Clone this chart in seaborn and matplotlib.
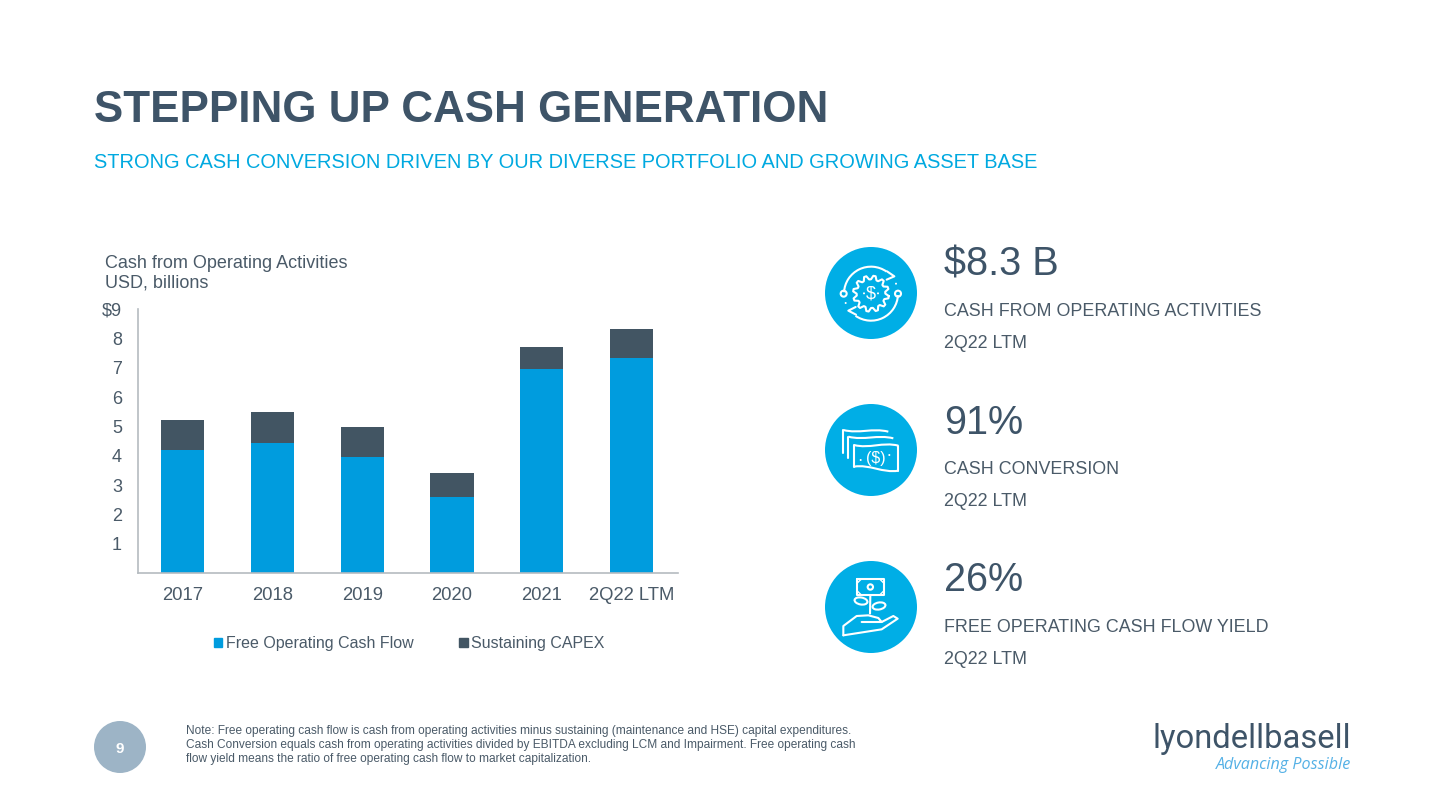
import numpy as np
import pandas as pd
import seaborn as sns
import matplotlib.pyplot as plt
from matplotlib.patches import Circle, Ellipse, Arc, Patch, PathPatch
from matplotlib.path import Path

years = ["2017", "2018", "2019", "2020", "2021", "2Q22 LTM"]
free_cash = [4.2, 4.43, 3.95, 2.6, 6.95, 7.33]
capex = [1.0, 1.05, 1.02, 0.8, 0.75, 1.0]
y_ticks = [1, 2, 3, 4, 5, 6, 7, 8, 9]
y_labels = ["1", "2", "3", "4", "5", "6", "7", "8", "$9"]

kpi_values = ["$8.3 B", "91%", "26%"]
kpi_names = ["CASH FROM OPERATING ACTIVITIES", "CASH CONVERSION", "FREE OPERATING CASH FLOW YIELD"]
kpi_period = "2Q22 LTM"
notes = ["Note: Free operating cash flow is cash from operating activities minus sustaining (maintenance and HSE) capital expenditures.",
         "Cash Conversion equals cash from operating activities divided by EBITDA excluding LCM and Impairment. Free operating cash",
         "flow yield means the ratio of free operating cash flow to market capitalization."]

BLUE = "#009CDE"
DARK = "#425563"
TITLE = "#3E5468"
TEXT = "#4A5A68"
ICON = "#00AEE6"

sns.set_theme(style="white")
plt.rcParams['font.family'] = ['Liberation Sans', 'DejaVu Sans']

fig = plt.figure(figsize=(14.4, 8.1), dpi=100, facecolor="white")
ax = fig.add_axes([138 / 1440, (810 - 573) / 810, 540 / 1440, 264 / 810])

df = pd.DataFrame({"year": years, "free": free_cash, "capex": capex})
df["total"] = df.free + df.capex
sns.barplot(x="year", y="total", data=df, color=DARK, saturation=1, width=0.48, linewidth=0, ax=ax)
sns.barplot(x="year", y="free", data=df, color=BLUE, saturation=1, width=0.48, linewidth=0, ax=ax)
ax.set_xlim(-0.496, 5.517)
ax.set_ylim(0, 9)
ax.set_xlabel("")
ax.set_ylabel("")
ax.set_yticks(y_ticks, y_labels)
ax.tick_params(axis="both", length=0, labelsize=13, labelcolor=TEXT)
ax.tick_params(axis="x", pad=10, labelsize=13.3)
ax.tick_params(axis="y", pad=11.5)
sns.despine(ax=ax)
for s in ["left", "bottom"]:
    ax.spines[s].set_color("#B5BBC0")
    ax.spines[s].set_linewidth(1.2)

handles = [Patch(color=BLUE, label="Free Operating Cash Flow"), Patch(color=DARK, label="Sustaining CAPEX")]
ax.legend(handles=handles, loc="center left", bbox_to_anchor=((214 - 138) / 540, (573 - 643.5) / 264), ncol=2,
          frameon=False, fontsize=11.5, labelcolor=TEXT, handlelength=0.52, handleheight=0.52, handletextpad=0.2,
          columnspacing=2.9, borderpad=0, borderaxespad=0)

# overlay in pixel coordinates for the slide furniture
ov = fig.add_axes([0, 0, 1, 1], zorder=5)
ov.set_xlim(0, 1440)
ov.set_ylim(810, 0)
ov.axis("off")
ov.patch.set_alpha(0)

def label(x, y, s, size, color=TEXT, **kw):
    kw.setdefault("va", "center")
    ov.text(x, y, s, fontsize=size, color=color, **kw)

label(94, 111, "STEPPING UP CASH GENERATION", 31.65, TITLE, fontweight="bold")
label(94, 162, "STRONG CASH CONVERSION DRIVEN BY OUR DIVERSE PORTFOLIO AND GROWING ASSET BASE", 14.43, "#00A9E0")
label(105, 263, "Cash from Operating Activities", 13, TEXT)
label(105, 283.5, "USD, billions", 13, TEXT)

value_y = [265, 423, 580]
for i in range(3):
    top = 158 * i
    label(944, value_y[i], kpi_values[i], 28.5, TITLE)
    label(944, 311 + top, kpi_names[i], 12.92, TEXT)
    label(944, 344 + top, kpi_period, 12.85, TEXT)
    ov.add_patch(Circle((871, 293 + 157 * i), 46, color=ICON, lw=0))

for i, line_txt in enumerate(notes):
    label(186, 731 + 14 * i, line_txt, 8.58, TEXT)
ov.add_patch(Circle((120, 747), 26, color="#9DB4C6", lw=0))
label(119.5, 749, "9", 11, "white", fontweight="bold", ha="center")

label(1351, 739, "lyondellbasell", 23.6, TITLE, ha="right", family="Roboto")
label(1351, 765, "Advancing Possible", 11.6, "#55B1E6", ha="right", style="italic", family="Open Sans")

# icons, traced in zoomed pixels relative to each circle centre
LW = 1.5

def pts(c, xy):
    return [(c[0] + x / 3, c[1] + y / 3) for x, y in xy]

def line(c, xy, lw=LW):
    p = pts(c, xy)
    ov.plot([a for a, b in p], [b for a, b in p], color="white", lw=lw, solid_joinstyle="round", solid_capstyle="round")

def wave(c, x0, y0, x1, y1, dy=12, lw=LW):
    p = pts(c, [(x0, y0), (x0 + (x1 - x0) * .35, y0 + dy), (x0 + (x1 - x0) * .65, y1 - dy), (x1, y1)])
    ov.add_patch(PathPatch(Path(p, [Path.MOVETO, Path.CURVE4, Path.CURVE4, Path.CURVE4]), fc="none", ec="white", lw=lw))

def ring(c, x, y, r, lw=LW):
    ov.add_patch(Circle(pts(c, [(x, y)])[0], r / 3, fc="none", ec="white", lw=lw))

def dot(c, x, y):
    ov.add_patch(Circle(pts(c, [(x, y)])[0], 1, color="white", lw=0))

# gear and arrows
c = (871, 293)
ang = np.linspace(0, 2 * np.pi, 49)
rad = np.tile([54, 54, 43, 43], 12)[:48]
gear = [(r * np.cos(a), 2 + r * np.sin(a)) for r, a in zip(rad, ang[:-1] + 0.13)]
line(c, gear + gear[:1])
ov.add_patch(Arc(pts(c, [(0, 2)])[0], 54, 54, theta1=183, theta2=305, color="white", lw=LW))
ov.add_patch(Arc(pts(c, [(0, 2)])[0], 54, 54, theta1=3, theta2=125, color="white", lw=LW))
line(c, [(48, -65), (70, -50), (47, -40)])
line(c, [(-46, 42), (-68, 53), (-45, 65)])
ring(c, -82, 2, 9)
ring(c, 81, 2, 9)
dot(c, 75, -28)
dot(c, -76, 30)
dot(c, -21, 1)
dot(c, 21, 1)
label(871, 294, "$", 13, "white", ha="center")

# bills
c = (871, 450)
line(c, [(-83, 10), (-83, -60)])
wave(c, -83, -60, 52, -55)
line(c, [(-68, 25), (-68, -40)])
wave(c, -68, -40, 67, -35)
line(c, [(-51, 50), (-51, -15)])
wave(c, -51, -15, 82, -13)
line(c, [(82, -13), (82, 62)])
wave(c, -51, 50, 82, 62, dy=-8)
label(876, 458, "($)", 11.5, "white", ha="center")
dot(c, -31, 30)
dot(c, 55, 15)

# hand with bill and sprout
c = (871, 607)
line(c, [(-43, -83), (40, -83), (40, -37), (-43, -37), (-43, -83)])
ring(c, -2, -60, 8)
line(c, [(-43, -70), (-30, -83)], 1)
line(c, [(27, -83), (40, -70)], 1)
line(c, [(-43, -50), (-30, -37)], 1)
line(c, [(27, -37), (40, -50)], 1)
wave(c, -2, -37, -3, 22, dy=12)
ov.add_patch(Ellipse(pts(c, [(-30, -18)])[0], 13, 7, angle=10, fc="none", ec="white", lw=LW))
ov.add_patch(Ellipse(pts(c, [(24, -3)])[0], 13, 7, angle=-10, fc="none", ec="white", lw=LW))
line(c, [(-83, 85), (-83, 57), (-43, 27), (-8, 25), (22, 33), (32, 45), (-28, 45)])
line(c, [(32, 45), (67, 27), (80, 35), (32, 67), (-83, 85)])

fig.savefig("out.png", dpi=100, facecolor="white")
